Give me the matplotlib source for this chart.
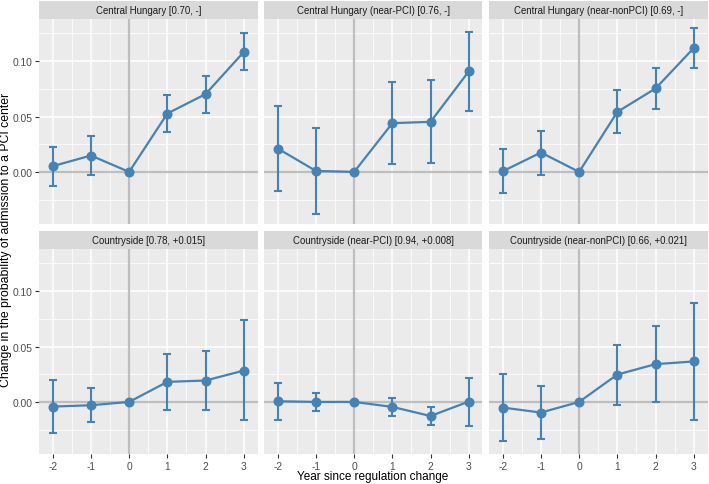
import numpy as np
import matplotlib.pyplot as plt
from matplotlib.ticker import MultipleLocator

years = [-2, -1, 0, 1, 2, 3]

titles = ["Central Hungary [0.70, -]",
          "Central Hungary (near-PCI) [0.76, -]",
          "Central Hungary (near-nonPCI) [0.69, -]",
          "Countryside [0.78, +0.015]",
          "Countryside (near-PCI) [0.94, +0.008]",
          "Countryside (near-nonPCI) [0.66, +0.021]"]

# point estimates, lower and upper bounds per panel
est_ch = [0.0052, 0.0148, 0.0, 0.0527, 0.0702, 0.1082]
lo_ch = [-0.0127, -0.0027, 0.0, 0.0356, 0.0533, 0.0922]
hi_ch = [0.0229, 0.0323, 0.0, 0.0696, 0.0868, 0.1250]

est_ch_pci = [0.0211, 0.0009, 0.0, 0.0440, 0.0452, 0.0907]
lo_ch_pci = [-0.0175, -0.0380, 0.0, 0.0075, 0.0084, 0.0552]
hi_ch_pci = [0.0597, 0.0398, 0.0, 0.0807, 0.0826, 0.1266]

est_ch_non = [0.0006, 0.0175, 0.0, 0.0542, 0.0753, 0.1118]
lo_ch_non = [-0.0193, -0.0024, 0.0, 0.0353, 0.0570, 0.0934]
hi_ch_non = [0.0205, 0.0371, 0.0, 0.0735, 0.0940, 0.1302]

est_cs = [-0.0042, -0.0030, 0.0, 0.0181, 0.0193, 0.0283]
lo_cs = [-0.0277, -0.0184, 0.0, -0.0072, -0.0075, -0.0166]
hi_cs = [0.0196, 0.0124, 0.0, 0.0431, 0.0461, 0.0735]

est_cs_pci = [0.0006, 0.0000, 0.0, -0.0045, -0.0127, 0.0003]
lo_cs_pci = [-0.0160, -0.0084, 0.0, -0.0127, -0.0205, -0.0214]
hi_cs_pci = [0.0175, 0.0081, 0.0, 0.0033, -0.0045, 0.0220]

est_cs_non = [-0.0051, -0.0096, 0.0, 0.0247, 0.0341, 0.0365]
lo_cs_non = [-0.0356, -0.0332, 0.0, -0.0027, 0.0000, -0.0160]
hi_cs_non = [0.0256, 0.0142, 0.0, 0.0518, 0.0681, 0.0892]

panels = [(est_ch, lo_ch, hi_ch), (est_ch_pci, lo_ch_pci, hi_ch_pci),
          (est_ch_non, lo_ch_non, hi_ch_non), (est_cs, lo_cs, hi_cs),
          (est_cs_pci, lo_cs_pci, hi_cs_pci), (est_cs_non, lo_cs_non, hi_cs_non)]

W, H = 709, 485
fig = plt.figure(figsize=(W / 100, H / 100), dpi=100)
plt.rcParams['font.family'] = ['Liberation Sans', 'DejaVu Sans']

blue = "#4682B4"
lefts = [39, 264, 489]
pw = 218.5
tops = [20, 250]
ph = 205
sh = 18

for i, (est, lo, hi) in enumerate(panels):
    r, c = divmod(i, 3)
    x0 = lefts[c] / W
    y0 = 1 - (tops[r] + ph) / H
    ax = fig.add_axes([x0, y0, pw / W, ph / H])
    ax.set_facecolor("#EBEBEB")
    ax.set_xlim(-2.36, 3.36)
    ax.set_ylim(-0.047, 0.138)
    ax.xaxis.set_major_locator(MultipleLocator(1))
    ax.xaxis.set_minor_locator(MultipleLocator(0.5))
    ax.yaxis.set_major_locator(MultipleLocator(0.05))
    ax.yaxis.set_minor_locator(MultipleLocator(0.025))
    ax.grid(which="major", color="white", lw=1.1)
    ax.grid(which="minor", color="white", lw=0.55)
    ax.set_axisbelow(True)
    for s in ax.spines.values():
        s.set_visible(False)
    ax.axhline(0, color="#BEBEBE", lw=1.6, zorder=1.5)
    ax.axvline(0, color="#BEBEBE", lw=1.6, zorder=1.5)

    est = np.array(est)
    err = [est - np.array(lo), np.array(hi) - est]
    ax.errorbar(years, est, yerr=err, fmt="none", ecolor=blue, elinewidth=1.5,
                capsize=2.8, capthick=1.5, zorder=3)
    ax.plot(years, est, color=blue, lw=1.6, marker="o", ms=6.2, zorder=4)

    ax.tick_params(which="both", length=0)
    ax.tick_params(which="major", length=2.7, color="#333333", width=0.8,
                   labelsize=7.4, labelcolor="#4D4D4D", pad=2)
    ax.set_xticks(years)
    ax.set_xticklabels([str(y) for y in years])
    ax.set_yticks([0.0, 0.05, 0.10])
    ax.set_yticklabels(["0.00", "0.05", "0.10"])
    if c != 0:
        ax.tick_params(axis="y", which="both", left=False, labelleft=False)
    if r == 0:
        ax.tick_params(axis="x", which="both", bottom=False, labelbottom=False)

    sax = fig.add_axes([x0, 1 - tops[r] / H, pw / W, sh / H])
    sax.set_facecolor("#D9D9D9")
    sax.set_xticks([])
    sax.set_yticks([])
    for s in sax.spines.values():
        s.set_visible(False)
    sax.text(0.5, 0.5, titles[i], ha="center", va="center", fontsize=6.9,
             color="#1A1A1A", transform=sax.transAxes)

fig.text(0.5 * (39 + 707) / W, 1 - 477 / H, "Year since regulation change",
         ha="center", va="center", fontsize=8.5)
fig.text(6.5 / W, 1 - 240 / H, "Change in the probability of admission to a PCI center",
         ha="center", va="center", rotation=90, fontsize=8.8)

fig.savefig("out.png", dpi=100)
